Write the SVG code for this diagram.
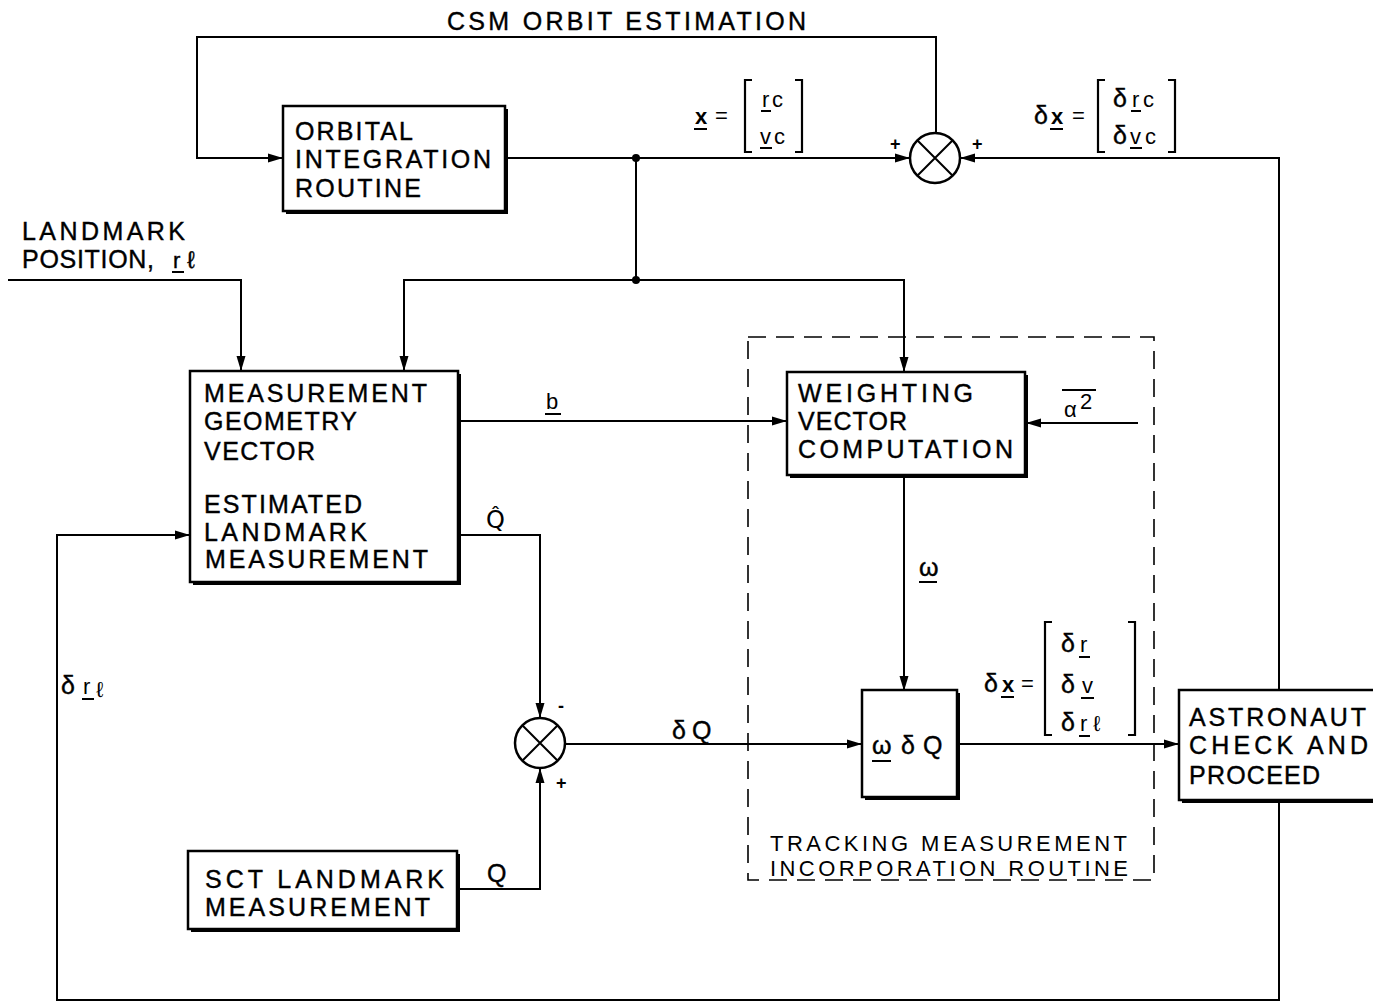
<svg xmlns="http://www.w3.org/2000/svg" width="1373" height="1003" viewBox="0 0 1373 1003">
<style>
  .t { font-family: "Liberation Sans", Arial, sans-serif; font-size: 25px; fill: #000; stroke: #000; stroke-width: 0.4; }
  .s { font-family: "Liberation Sans", Arial, sans-serif; font-size: 22px; fill: #000; }
  .m { font-family: "DejaVu Sans", "Liberation Sans", sans-serif; font-size: 24px; fill: #000; }
  .sm { font-family: "Liberation Sans", Arial, sans-serif; font-size: 18px; font-weight: bold; fill: #000; }
  .box { fill: #fff; stroke: #000; stroke-width: 2.5; }
  .shadow { fill: #000; }
  .line { fill: none; stroke: #000; stroke-width: 2; }
  .ul { stroke: #000; stroke-width: 2; }
  .brk { fill: none; stroke: #000; stroke-width: 2.2; }
  .dash { fill: none; stroke: #000; stroke-width: 1.6; stroke-dasharray: 18 10; }
  .sum { fill: #fff; stroke: #000; stroke-width: 2.5; }
</style>
<defs>
  <marker id="ah" markerUnits="userSpaceOnUse" markerWidth="16" markerHeight="10" refX="15" refY="5" orient="auto">
    <path d="M0,0.5 L15,5 L0,9.5 z" fill="#000"/>
  </marker>
</defs>
<rect width="1373" height="1003" fill="#fff"/>

<g id="dashed-region">
  <rect class="dash" x="748" y="337" width="406" height="543"/>
  <text class="s" x="770" y="851" textLength="357" lengthAdjust="spacing">TRACKING MEASUREMENT</text>
  <text class="s" x="770" y="876" textLength="358" lengthAdjust="spacing">INCORPORATION ROUTINE</text>
</g>

<g id="connectors">
  <path class="line" d="M936,133 V37 H197 V158 H283" marker-end="url(#ah)"/>
  <path class="line" d="M505,158 H910" marker-end="url(#ah)"/>
  <path class="line" d="M1279,690 V158 H960" marker-end="url(#ah)"/>
  <path class="line" d="M636,158 V280"/>
  <circle cx="636" cy="158" r="4" fill="#000"/>
  <circle cx="636" cy="280" r="4" fill="#000"/>
  <path class="line" d="M636,280 H404 V371" marker-end="url(#ah)"/>
  <path class="line" d="M636,280 H904 V372" marker-end="url(#ah)"/>
  <path class="line" d="M8,280 H241 V371" marker-end="url(#ah)"/>
  <path class="line" d="M458,421 H787" marker-end="url(#ah)"/>
  <path class="line" d="M1138,423 H1026" marker-end="url(#ah)"/>
  <path class="line" d="M904,475 V691" marker-end="url(#ah)"/>
  <path class="line" d="M458,535 H540 V718" marker-end="url(#ah)"/>
  <path class="line" d="M457,889 H540 V768" marker-end="url(#ah)"/>
  <path class="line" d="M565,744 H862" marker-end="url(#ah)"/>
  <path class="line" d="M957,744 H1179" marker-end="url(#ah)"/>
  <path class="line" d="M1279,800 V1000 H57 V535 H190" marker-end="url(#ah)"/>
</g>

<g id="sum-top">
  <circle class="sum" cx="935" cy="158" r="25"/>
  <path class="line" d="M917.3,140.3 L952.7,175.7 M952.7,140.3 L917.3,175.7"/>
  <text class="sm" x="890" y="150">+</text>
  <text class="sm" x="972" y="150">+</text>
</g>

<g id="sum-bottom">
  <circle class="sum" cx="540" cy="743" r="25"/>
  <path class="line" d="M522.3,725.3 L557.7,760.7 M557.7,725.3 L522.3,760.7"/>
  <text class="sm" x="558" y="712">-</text>
  <text class="sm" x="556" y="789">+</text>
</g>

<g id="orbital-integration">
  <rect class="shadow" x="286" y="109" width="222" height="105"/>
  <rect class="box" x="283" y="106" width="222" height="105"/>
  <text class="t" x="295" y="140" textLength="118" lengthAdjust="spacing">ORBITAL</text>
  <text class="t" x="295" y="168" textLength="196" lengthAdjust="spacing">INTEGRATION</text>
  <text class="t" x="295" y="197" textLength="126" lengthAdjust="spacing">ROUTINE</text>
</g>

<g id="csm-label">
  <text class="t" x="447" y="30" textLength="359" lengthAdjust="spacing">CSM ORBIT ESTIMATION</text>
</g>

<g id="landmark-position">
  <text class="t" x="22" y="240" textLength="163" lengthAdjust="spacing">LANDMARK</text>
  <text class="t" x="22" y="268"><tspan textLength="132" lengthAdjust="spacing">POSITION,</tspan><tspan x="173" font-size="22">r</tspan><tspan x="187" font-size="24">ℓ</tspan></text>
  <line class="ul" x1="172" y1="272" x2="184" y2="272"/>
</g>

<g id="measurement-geometry">
  <rect class="shadow" x="193" y="374" width="268" height="211"/>
  <rect class="box" x="190" y="371" width="268" height="211"/>
  <text class="t" x="204" y="402" textLength="223" lengthAdjust="spacing">MEASUREMENT</text>
  <text class="t" x="204" y="430" textLength="153" lengthAdjust="spacing">GEOMETRY</text>
  <text class="t" x="204" y="460" textLength="111" lengthAdjust="spacing">VECTOR</text>
  <text class="t" x="204" y="513" textLength="158" lengthAdjust="spacing">ESTIMATED</text>
  <text class="t" x="204" y="541" textLength="163" lengthAdjust="spacing">LANDMARK</text>
  <text class="t" x="205" y="568" textLength="223" lengthAdjust="spacing">MEASUREMENT</text>
</g>

<g id="weighting-vector">
  <rect class="shadow" x="790" y="375" width="238" height="103"/>
  <rect class="box" x="787" y="372" width="238" height="103"/>
  <text class="t" x="798" y="402" textLength="175" lengthAdjust="spacing">WEIGHTING</text>
  <text class="t" x="798" y="430" textLength="109" lengthAdjust="spacing">VECTOR</text>
  <text class="t" x="798" y="458" textLength="215" lengthAdjust="spacing">COMPUTATION</text>
</g>

<g id="omega-dq">
  <rect class="shadow" x="865" y="693" width="95" height="107"/>
  <rect class="box" x="862" y="690" width="95" height="107"/>
  <text class="t" x="872" y="754"><tspan>ω</tspan><tspan x="901">δ</tspan><tspan x="923">Q</tspan></text>
  <line class="ul" x1="872" y1="761" x2="891" y2="761"/>
</g>

<g id="astronaut-check">
  <rect class="shadow" x="1182" y="693" width="200" height="110"/>
  <rect class="box" x="1179" y="690" width="200" height="110"/>
  <text class="t" x="1189" y="726" textLength="177" lengthAdjust="spacing">ASTRONAUT</text>
  <text class="t" x="1189" y="754" textLength="179" lengthAdjust="spacing">CHECK AND</text>
  <text class="t" x="1189" y="784" textLength="131" lengthAdjust="spacing">PROCEED</text>
</g>

<g id="sct-landmark">
  <rect class="shadow" x="191" y="854" width="269" height="78"/>
  <rect class="box" x="188" y="851" width="269" height="78"/>
  <text class="t" x="205" y="888" textLength="239" lengthAdjust="spacing">SCT LANDMARK</text>
  <text class="t" x="205" y="916" textLength="225" lengthAdjust="spacing">MEASUREMENT</text>
</g>

<g id="labels">
  <!-- x = [rc; vc] -->
  <text class="s" x="695" y="124" font-weight="bold">x</text>
  <line class="ul" x1="694" y1="129" x2="707" y2="129"/>
  <text class="s" x="715" y="123" font-size="16">=</text>
  <path class="brk" d="M752,80 H745 V152 H752 M795,80 H802 V152 H795"/>
  <text class="s" x="762" y="107" font-size="20">r</text>
  <line class="ul" x1="761" y1="111" x2="771" y2="111"/>
  <text class="s" x="772" y="107">c</text>
  <text class="s" x="760" y="144" font-size="20">v</text>
  <line class="ul" x1="760" y1="148" x2="772" y2="148"/>
  <text class="s" x="774" y="144">c</text>

  <!-- dx = [drc; dvc] -->
  <text class="t" x="1034" y="124">δ</text>
  <text class="s" x="1051" y="124" font-weight="bold">x</text>
  <line class="ul" x1="1050" y1="129" x2="1063" y2="129"/>
  <text class="s" x="1072" y="123" font-size="16">=</text>
  <path class="brk" d="M1105,80 H1098 V152 H1105 M1168,80 H1175 V152 H1168"/>
  <text class="t" x="1113" y="107">δ</text>
  <text class="s" x="1132" y="107" font-size="20">r</text>
  <line class="ul" x1="1131" y1="111" x2="1141" y2="111"/>
  <text class="s" x="1143" y="107">c</text>
  <text class="t" x="1113" y="144">δ</text>
  <text class="s" x="1130" y="144" font-size="20">v</text>
  <line class="ul" x1="1130" y1="148" x2="1142" y2="148"/>
  <text class="s" x="1145" y="144">c</text>

  <!-- b -->
  <text class="s" x="546" y="409">b</text>
  <line class="ul" x1="545" y1="414" x2="561" y2="414"/>

  <!-- alpha squared mean -->
  <text class="s" x="1064" y="417">α</text>
  <text class="s" x="1080" y="409" font-size="16">2</text>
  <line class="ul" x1="1062" y1="390" x2="1096" y2="390" stroke-width="1.6"/>

  <!-- omega -->
  <text class="t" x="919" y="576">ω</text>
  <line class="ul" x1="919" y1="582" x2="937" y2="582"/>

  <!-- Q hat -->
  <text class="m" x="486" y="528">Q̂</text>

  <!-- Q -->
  <text class="t" x="487" y="882">Q</text>

  <!-- dQ -->
  <text class="t" x="672" y="739">δ</text>
  <text class="t" x="692" y="739">Q</text>

  <!-- dx = [dr; dv; drl] -->
  <text class="t" x="984" y="692">δ</text>
  <text class="s" x="1002" y="692" font-weight="bold">x</text>
  <line class="ul" x1="1001" y1="697" x2="1014" y2="697"/>
  <text class="s" x="1021" y="691" font-size="16">=</text>
  <path class="brk" d="M1052,622 H1045 V735 H1052 M1128,622 H1135 V735 H1128"/>
  <text class="t" x="1061" y="652">δ</text>
  <text class="s" x="1080" y="652" font-size="20">r</text>
  <line class="ul" x1="1079" y1="657" x2="1090" y2="657"/>
  <text class="t" x="1061" y="693">δ</text>
  <text class="s" x="1082" y="693" font-size="20">v</text>
  <line class="ul" x1="1081" y1="698" x2="1094" y2="698"/>
  <text class="t" x="1061" y="731">δ</text>
  <text class="s" x="1080" y="731" font-size="20">r</text>
  <text class="s" x="1093" y="731" font-size="22">ℓ</text>
  <line class="ul" x1="1079" y1="736" x2="1090" y2="736"/>

  <!-- d r_l feedback -->
  <text class="t" x="61" y="694">δ</text>
  <text class="s" x="83" y="694" font-size="20">r</text>
  <text class="s" x="96" y="697" font-size="22">ℓ</text>
  <line class="ul" x1="82" y1="699" x2="94" y2="699"/>
</g>
</svg>
